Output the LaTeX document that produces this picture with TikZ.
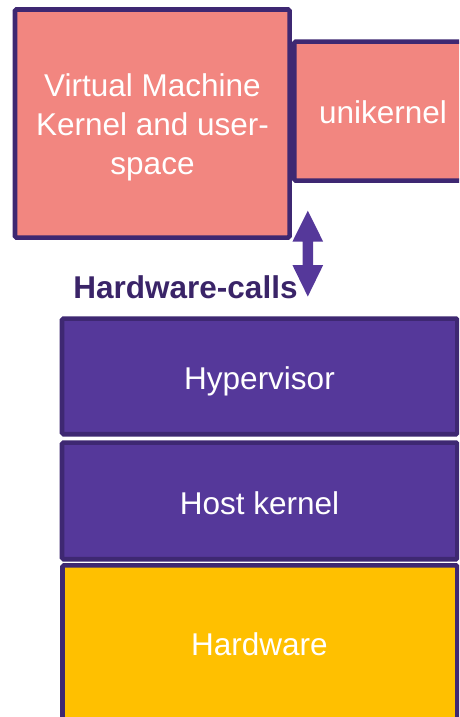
\documentclass[tikz,border=0pt]{standalone}
\usepackage{fontspec}
\setmainfont{Liberation Sans}
\definecolor{edge}{HTML}{3E2872}
\definecolor{violet}{HTML}{55389A}
\definecolor{salmon}{HTML}{F28680}
\definecolor{amber}{HTML}{FFC000}
\definecolor{labelink}{HTML}{3A2468}
\tikzset{
  layer/.style={draw=edge, line width=4.6pt, rounded corners=1.5pt},
  boxtext/.style={text=white, font=\fontsize{31.5}{39}\selectfont, inner sep=0pt, anchor=base, align=center},
}
\begin{document}
\begin{tikzpicture}[x=1pt, y=-1pt]
  \useasboundingbox (0,0) rectangle (459,717);
  \clip (0,0) rectangle (459,717);

  % guest side: full VM and unikernel
  \draw[layer, fill=salmon] (15,9.5) rectangle (289.6,237.6);
  \draw[layer, fill=salmon] (294.2,41.6) rectangle (472,180.6);
  % base anchor of a multi-line node sits on its last line
  \node[boxtext] (vm) at (152.5,174.7) {Virtual Machine\\Kernel and user-\\space};
  \node[boxtext] (uk) at (383,123.5) {unikernel};

  % host stack
  \draw[layer, fill=violet] (62,318.6) rectangle (457.4,434.2);
  \draw[layer, fill=violet] (62,442.6) rectangle (457.4,559.2);
  \draw[layer, fill=amber]  (62.5,565.4) rectangle (457.4,725);
  \node[boxtext] (hv) at (259.5,389.3) {Hypervisor};
  \node[boxtext] (hk) at (259.5,514) {Host kernel};
  \node[boxtext] (hw) at (259.5,655) {Hardware};

  % hardware-call arrow between guest and hypervisor
  \coordinate (top) at (307.8,210.7);
  \coordinate (bot) at (307.8,296.5);
  \fill[violet] (top) -- ++(15.4,31) -- ++(-10.2,0) -- ++(0,23.3) -- ++(10.2,0)
    -- (bot) -- ++(-15.4,-31.5) -- ++(10.2,0) -- ++(0,-23.3) -- ++(-10.2,0) -- cycle;
  \node[text=labelink, font=\bfseries\fontsize{31.5}{38}\selectfont, inner sep=0pt, anchor=base]
    (calls) at (185.5,298.3) {Hardware-calls};
\end{tikzpicture}
\end{document}
